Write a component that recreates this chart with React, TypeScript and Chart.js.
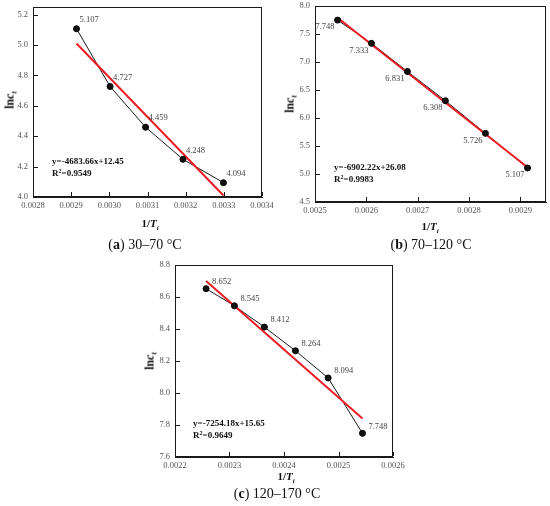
import React, { useEffect, useRef } from "react";
import { Chart, registerables } from "chart.js";
Chart.register(...registerables);

// ---------- Panel (a) 30–70 °C ----------
const xA = [0.002914, 0.003002, 0.003095, 0.003193, 0.003299];
const yA = [5.107, 4.727, 4.459, 4.248, 4.094];
const fitXA = [0.002914, 0.003299];
const fitYA = [5.01, 4.01];
const xTicksA = [0.0028, 0.0029, 0.003, 0.0031, 0.0032, 0.0033, 0.0034];
const yTicksA = [4.0, 4.2, 4.4, 4.6, 4.8, 5.0, 5.2];
const eqA = "y=-4683.66x+12.45";
const r2A = "=0.9549";
const capA = ["a", " 30–70 °C"];

// ---------- Panel (b) 70–120 °C ----------
const xB = [0.002544, 0.00261, 0.00268, 0.002754, 0.002832, 0.002914];
const yB = [7.748, 7.333, 6.831, 6.308, 5.726, 5.107];
const fitXB = [0.002544, 0.002914];
const fitYB = [7.79, 5.12];
const xTicksB = [0.0025, 0.0026, 0.0027, 0.0028, 0.0029];
const yTicksB = [4.5, 5.0, 5.5, 6.0, 6.5, 7.0, 7.5, 8.0];
const eqB = "y=-6902.22x+26.08";
const r2B = "=0.9983";
const capB = ["b", " 70–120 °C"];

// ---------- Panel (c) 120–170 °C ----------
const xC = [0.002257, 0.002309, 0.002364, 0.002421, 0.002481, 0.002544];
const yC = [8.652, 8.545, 8.412, 8.264, 8.094, 7.748];
const fitXC = [0.002257, 0.002544];
const fitYC = [8.7, 7.84];
const xTicksC = [0.0022, 0.0023, 0.0024, 0.0025, 0.0026];
const yTicksC = [7.6, 7.8, 8.0, 8.2, 8.4, 8.6, 8.8];
const eqC = "y=-7254.18x+15.65";
const r2C = "=0.9649";
const capC = ["c", " 120–170 °C"];

const SERIF = "'Liberation Serif', 'Times New Roman', serif";
const RED = "#ec1c24";
const PAD = 20;
const AXW = 40;
const AXH = 20;

type Area = { left: number; top: number; right: number; bottom: number };
type Cfg = {
  xs: number[]; ys: number[]; fx: number[]; fy: number[];
  xTicks: number[]; yTicks: number[];
  xMin: number; xMax: number; yMin: number; yMax: number;
  yDec: number;
  area: Area;
  lblAlign: CanvasTextAlign; lblDx: number; lblDy: number;
};

const panels: { cfg: Cfg; eq: string; r2: string; eqPos: [number, number]; xt: [number, number]; yt: [number, number]; cap: string[]; capPos: [number, number] }[] = [
  {
    cfg: { xs: xA, ys: yA, fx: fitXA, fy: fitYA, xTicks: xTicksA, yTicks: yTicksA, xMin: 0.0028, xMax: 0.0034, yMin: 4.0, yMax: 5.25, yDec: 1,
      area: { left: 33, top: 7, right: 262, bottom: 197 }, lblAlign: "left", lblDx: 3, lblDy: -9 },
    eq: eqA, r2: r2A, eqPos: [52, 155], xt: [150, 223], yt: [10, 100], cap: capA, capPos: [145, 245],
  },
  {
    cfg: { xs: xB, ys: yB, fx: fitXB, fy: fitYB, xTicks: xTicksB, yTicks: yTicksB, xMin: 0.0025, xMax: 0.00295, yMin: 4.5, yMax: 8.0, yDec: 1,
      area: { left: 315, top: 6, right: 546, bottom: 202 }, lblAlign: "right", lblDx: -3, lblDy: 7 },
    eq: eqB, r2: r2B, eqPos: [334, 161], xt: [430, 226], yt: [290, 104], cap: capB, capPos: [431, 245],
  },
  {
    cfg: { xs: xC, ys: yC, fx: fitXC, fy: fitYC, xTicks: xTicksC, yTicks: yTicksC, xMin: 0.0022, xMax: 0.0026, yMin: 7.6, yMax: 8.8, yDec: 1,
      area: { left: 175, top: 265, right: 393, bottom: 457 }, lblAlign: "left", lblDx: 6, lblDy: -7 },
    eq: eqC, r2: r2C, eqPos: [193, 417], xt: [286, 476], yt: [150, 361], cap: capC, capPos: [277, 494],
  },
];

function PanelChart({ cfg }: { cfg: Cfg }) {
  const ref = useRef<HTMLCanvasElement>(null);
  const a = cfg.area;
  const cw = a.right - a.left + AXW + PAD;
  const ch = a.bottom - a.top + AXH + PAD;
  useEffect(() => {
    const overlay = {
      id: "panelOverlay",
      afterDraw(chart: any) {
        const ctx: CanvasRenderingContext2D = chart.ctx;
        const sx = chart.scales.x;
        const sy = chart.scales.y;
        const l = Math.round(sx.getPixelForValue(cfg.xMin));
        const r = Math.round(sx.getPixelForValue(cfg.xMax));
        const t = Math.round(sy.getPixelForValue(cfg.yMax));
        const b = Math.round(sy.getPixelForValue(cfg.yMin));
        ctx.save();
        ctx.globalAlpha = 1;
        ctx.globalCompositeOperation = "source-over";
        ctx.fillStyle = "#1a1a1a";
        // frame as filled 1px rects
        ctx.fillRect(l, t, r - l, 1);
        ctx.fillRect(l, b - 1, r - l, 1);
        ctx.fillRect(l, t, 1, b - t);
        ctx.fillRect(r - 1, t, 1, b - t);
        // inward ticks
        cfg.xTicks.forEach((v) => {
          const px = Math.round(sx.getPixelForValue(v));
          ctx.fillRect(px, b - 5, 1, 4);
        });
        cfg.yTicks.forEach((v) => {
          const py = Math.round(sy.getPixelForValue(v));
          ctx.fillRect(l + 1, py, 4, 1);
        });
        ctx.restore();
      },
      afterDatasetsDraw(chart: any) {
        const ctx: CanvasRenderingContext2D = chart.ctx;
        const sx = chart.scales.x;
        const sy = chart.scales.y;
        ctx.save();
        ctx.font = `8.5px ${SERIF}`;
        ctx.fillStyle = "#444";
        ctx.textAlign = cfg.lblAlign;
        ctx.textBaseline = "middle";
        cfg.xs.forEach((xv, i) => {
          const px = sx.getPixelForValue(xv);
          const py = sy.getPixelForValue(cfg.ys[i]);
          ctx.fillText(cfg.ys[i].toFixed(3), px + cfg.lblDx, py + cfg.lblDy);
        });
        ctx.restore();
      },
    };
    const fitAxis = (isX: boolean) => (s: any) => {
      if (isX) s.height = AXH; else s.width = AXW;
      s.paddingLeft = 0; s.paddingRight = 0; s.paddingTop = 0; s.paddingBottom = 0;
    };
    const chart = new Chart(ref.current!, {
      type: "scatter",
      data: {
        datasets: [
          {
            data: cfg.xs.map((x, i) => ({ x, y: cfg.ys[i] })),
            showLine: false,
            pointRadius: 3,
            pointBackgroundColor: "#111",
            pointBorderColor: "#000",
            pointBorderWidth: 1,
          },
          {
            data: cfg.fx.map((x, i) => ({ x, y: cfg.fy[i] })),
            showLine: true,
            borderColor: RED,
            borderWidth: 2,
            pointRadius: 0,
          },
          {
            data: cfg.xs.map((x, i) => ({ x, y: cfg.ys[i] })),
            showLine: true,
            borderColor: "#1a1a1a",
            borderWidth: 1,
            pointRadius: 0,
          },
        ],
      },
      options: {
        responsive: false,
        animation: false,
        events: [],
        layout: { padding: { top: PAD, right: PAD, left: 0, bottom: 0 } },
        plugins: { legend: { display: false }, tooltip: { enabled: false } },
        scales: {
          x: {
            type: "linear",
            min: cfg.xMin,
            max: cfg.xMax,
            grid: { display: false, drawTicks: false },
            border: { display: true, color: "#1a1a1a", width: 1 },
            ticks: {
              padding: 4,
              color: "#555",
              font: { family: SERIF, size: 8.5 },
              maxRotation: 0,
              autoSkip: false,
              callback: (v: any) => Number(v).toFixed(4),
            },
            afterBuildTicks: (s: any) => {
              s.ticks = cfg.xTicks.map((v) => ({ value: v }));
            },
            afterFit: fitAxis(true),
          },
          y: {
            type: "linear",
            min: cfg.yMin,
            max: cfg.yMax,
            grid: { display: false, drawTicks: false },
            border: { display: true, color: "#1a1a1a", width: 1 },
            ticks: {
              padding: 5,
              color: "#555",
              font: { family: SERIF, size: 8.5 },
              autoSkip: false,
              callback: (v: any) => Number(v).toFixed(cfg.yDec),
            },
            afterBuildTicks: (s: any) => {
              s.ticks = cfg.yTicks.map((v) => ({ value: v }));
            },
            afterFit: fitAxis(false),
          },
        },
      } as any,
      plugins: [overlay],
    });
    return () => chart.destroy();
  }, []);
  return (
    <canvas
      ref={ref}
      width={cw}
      height={ch}
      style={{ position: "absolute", left: a.left - AXW, top: a.top - PAD, width: cw, height: ch }}
    />
  );
}

const abs = (x: number, y: number, extra: React.CSSProperties = {}): React.CSSProperties => ({
  position: "absolute",
  left: x,
  top: y,
  whiteSpace: "nowrap",
  ...extra,
});

export default function App() {
  return (
    <div style={{ position: "fixed", left: 0, top: 0, width: 550, height: 506, overflow: "hidden", background: "#fff" }}>
      {panels.map((p, i) => (
        <React.Fragment key={i}>
          <PanelChart cfg={p.cfg} />
          <div style={abs(p.eqPos[0], p.eqPos[1], { font: `bold 9px ${SERIF}`, lineHeight: "12px", color: "#111" })}>
            <div>{p.eq}</div>
            <div>
              R<sup style={{ fontSize: "6px", lineHeight: 0, verticalAlign: "3px" }}>2</sup>
              {p.r2}
            </div>
          </div>
          <div style={abs(p.xt[0], p.xt[1], { transform: "translate(-50%,-50%)", font: `bold 11px ${SERIF}`, color: "#111" })}>
            1/<i>T</i>
            <sub style={{ fontSize: "7px", lineHeight: 0, verticalAlign: "-3px" }}>
              <i>i</i>
            </sub>
          </div>
          <div
            style={abs(p.yt[0], p.yt[1], {
              transform: "translate(-50%,-50%) rotate(-90deg)",
              font: `bold 12px ${SERIF}`,
              color: "#111",
            })}
          >
            ln<i>c</i>
            <sub style={{ fontSize: "8px", lineHeight: 0, verticalAlign: "-3px" }}>
              <i>t</i>
            </sub>
          </div>
          <div style={abs(p.capPos[0], p.capPos[1], { transform: "translate(-50%,-50%)", font: `14px ${SERIF}`, color: "#111" })}>
            (<b>{p.cap[0]}</b>){p.cap[1]}
          </div>
        </React.Fragment>
      ))}
    </div>
  );
}
